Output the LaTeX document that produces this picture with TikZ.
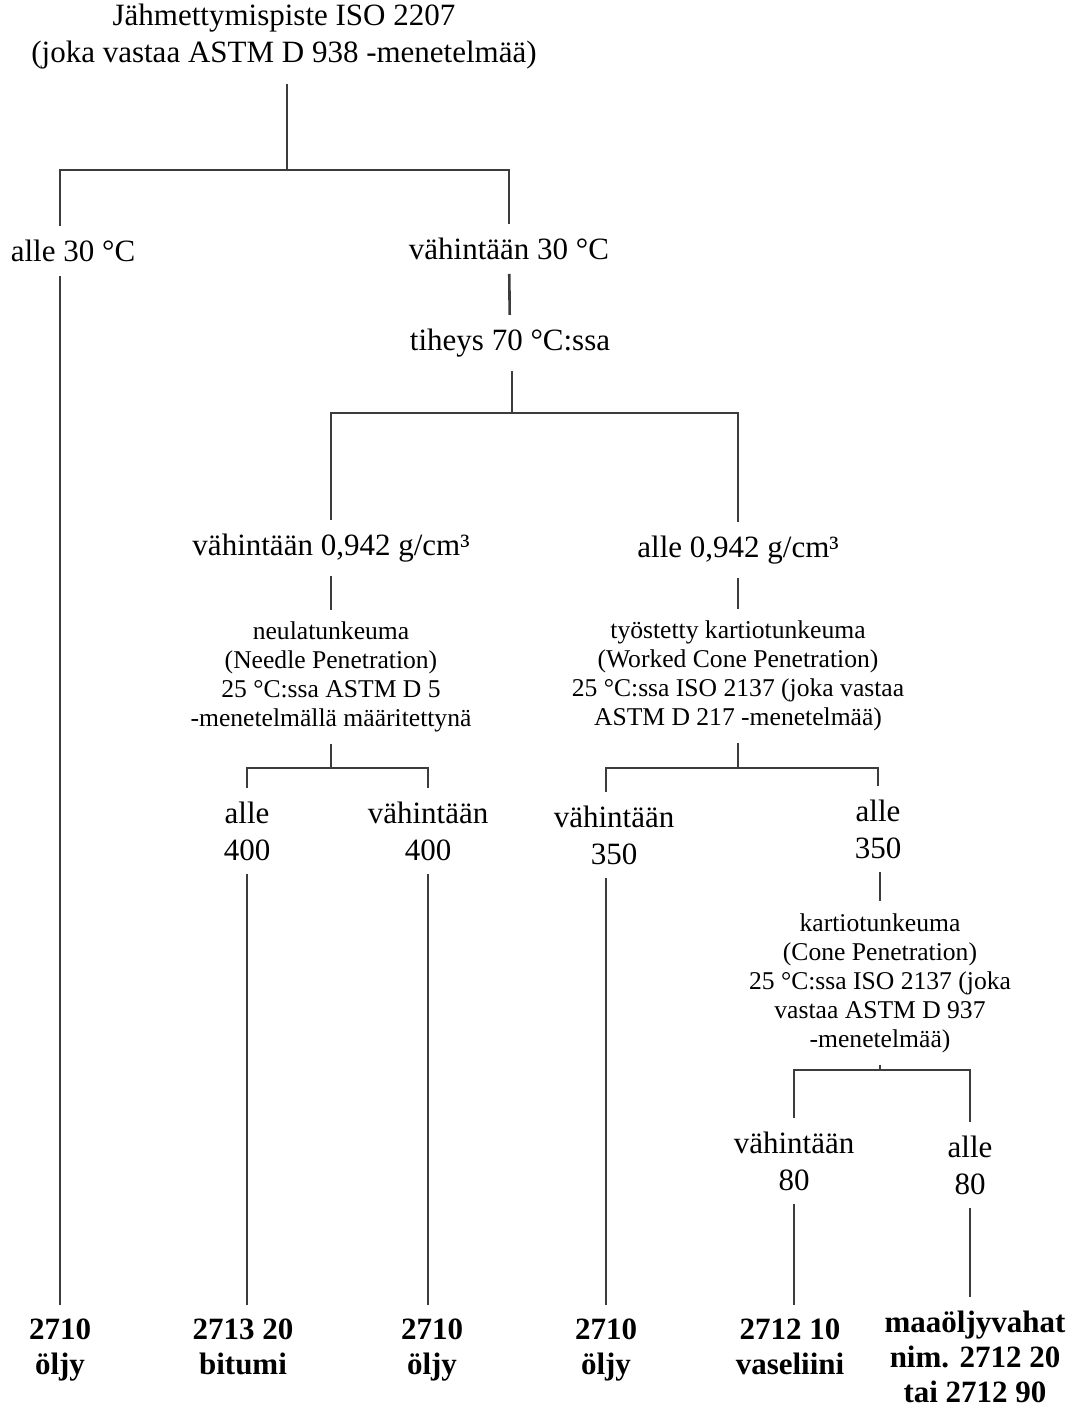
\documentclass[tikz,border=0pt]{standalone}
\usepackage{fontspec}
\setmainfont{Liberation Serif}
\usetikzlibrary{positioning}
\definecolor{lineCol}{RGB}{60,60,60}
\tikzset{
  cond/.style={align=center, font=\fontsize{15.5}{18.5}\selectfont,
               inner sep=0pt, outer sep=7pt},
  test/.style={align=center, font=\fontsize{12.8}{14.5}\selectfont,
               inner sep=0pt, outer sep=6pt},
  code/.style={align=center, font=\fontsize{15.5}{17.5}\selectfont\bfseries,
               inner sep=0pt, outer sep=7pt, anchor=north},
  link/.style={draw=lineCol, line width=1.3pt},
}

\begin{document}
\begin{tikzpicture}[x=0.5pt, y=-0.5pt]
  \useasboundingbox (0,0) rectangle (1069,1408);

  % conditions
  \node[cond] (root) at (284,37)
    {Jähmettymispiste ISO 2207\\(joka vastaa ASTM D 938 -menetelmää)};
  \node[cond] (under30) at (73,251) {alle 30 °C};
  \node[cond] (over30) at (509,249) {vähintään 30 °C};
  \node[cond] (dens) at (510,343) {tiheys 70 °C:ssa};
  \node[cond] (heavy) at (331,548) {vähintään 0,942 g/cm³};
  \node[cond] (light) at (738,550) {alle 0,942 g/cm³};

  % penetration tests
  \node[test] (needle) at (331,677)
    {neulatunkeuma\\(Needle Penetration)\\25 °C:ssa ASTM D 5\\-menetelmällä määritettynä};
  \node[test] (worked) at (738,676)
    {työstetty kartiotunkeuma\\(Worked Cone Penetration)\\25 °C:ssa ISO 2137 (joka vastaa\\ASTM D 217 -menetelmää)};
  \node[cond] (nlow) at (247,831) {alle\\400};
  \node[cond] (nhigh) at (428,831) {vähintään\\400};
  \node[cond] (whigh) at (614,835) {vähintään\\350};
  \node[cond] (wlow) at (878,829) {alle\\350};
  \node[test] (cone) at (880,983)
    {kartiotunkeuma\\(Cone Penetration)\\25 °C:ssa ISO 2137 (joka\\vastaa ASTM D 937\\-menetelmää)};
  \node[cond] (chigh) at (794,1161) {vähintään\\80};
  \node[cond] (clow) at (970,1165) {alle\\80};

  % results
  \node[code] (r1) at (60,1305) {2710\\öljy};
  \node[code] (r2) at (243,1305) {2713 20\\bitumi};
  \node[code] (r3) at (432,1305) {2710\\öljy};
  \node[code] (r4) at (606,1305) {2710\\öljy};
  \node[code] (r5) at (790,1305) {2712 10\\vaseliini};
  \node[code] (r6) at (975,1297) {maaöljyvahat\\nim. 2712 20\\tai 2712 90};

  % branch points
  \coordinate (b1) at (287,170);
  \coordinate (b2) at (512,413);
  \coordinate (b3) at (331,768);
  \coordinate (b4) at (738,768);
  \coordinate (b5) at (880,1070);

  % tree
  \draw[link] (b1 |- root.south) -- (b1);
  \draw[link] (under30.north -| r1.north) |- (b1) -| (over30.north);
  \draw[link] (under30.south -| r1.north) -- (r1.north);
  \draw[link] (over30) -- (dens);
  \draw[link] (b2 |- dens.south) -- (b2);
  \draw[link] (heavy.north) |- (b2) -| (light.north);
  \draw[link] (heavy) -- (needle);
  \draw[link] (light) -- (worked);
  \draw[link] (needle.south) -- (b3);
  \draw[link] (nlow.north) |- (b3) -| (nhigh.north);
  \draw[link] (worked.south) -- (b4);
  \draw[link] (whigh.north -| r4.north) |- (b4) -| (wlow.north);
  \draw[link] (nlow.south) -- (nlow.south |- r2.north);
  \draw[link] (nhigh.south) -- (nhigh.south |- r3.north);
  \draw[link] (whigh.south -| r4.north) -- (r4.north);
  \draw[link] (wlow.south -| cone.north) -- (cone.north);
  \draw[link] (cone.south) -- (b5);
  \draw[link] (chigh.north) |- (b5) -| (clow.north);
  \draw[link] (chigh.south) -- (chigh.south |- r5.north);
  \draw[link] (clow.south) -- (clow.south |- r6.north);
\end{tikzpicture}
\end{document}
